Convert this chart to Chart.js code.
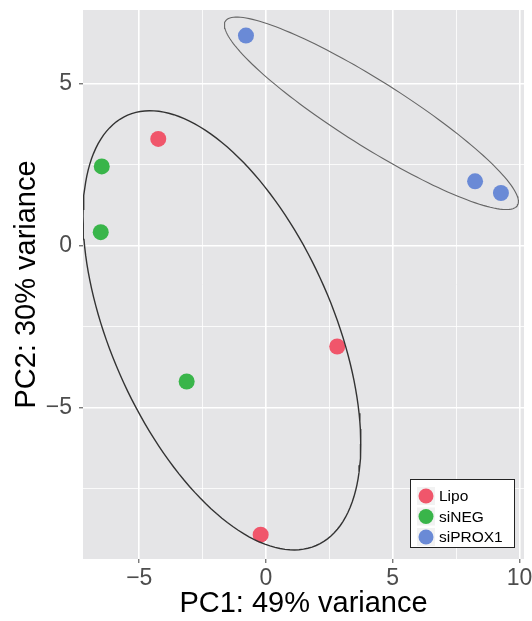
<!DOCTYPE html>
<html>
<head>
<meta charset="utf-8">
<script src="https://cdn.jsdelivr.net/npm/chart.js@4.4.1/dist/chart.umd.min.js"></script>
<style>
  body { margin: 0; background: #fff; }
  canvas { display: block; }
</style>
</head>
<body>
<canvas id="pca" width="532" height="621"></canvas>
<script>
// PCA scores
const groups = ["Lipo", "siNEG", "siPROX1"];
const groupColors = ["#F0566B", "#39B54A", "#6A8AD6"];
const lipoPC1 = [-4.25, 2.81, -0.21];
const lipoPC2 = [3.29, -3.12, -8.93];
const sinegPC1 = [-6.48, -6.52, -3.13];
const sinegPC2 = [2.44, 0.41, -4.20];
const siproxPC1 = [-0.79, 8.25, 9.27];
const siproxPC2 = [6.48, 1.98, 1.62];

// axis ticks (grid every 2.5, labels every 5)
const xGrid = [-5, -2.5, 0, 2.5, 5, 7.5, 10];
const yGrid = [-7.5, -5, -2.5, 0, 2.5, 5];
const majorTicks = [-5, 0, 5, 10];

// confidence ellipses: centre + two conjugate semi-axes, in data units
const ellipseTop = { c: [4.16, 4.08], u: [5.80, -2.725], v: [0, -1.185] };
const ellipseBig = { c: [-1.74, -2.62], u: [5.48, -3.512], v: [0, -5.80] };

function pts(xs, ys) {
  return xs.map((x, i) => ({ x: x, y: ys[i] }));
}

function ellipsePath(e) {
  const out = [];
  for (let i = 0; i <= 160; i++) {
    const t = (i / 160) * Math.PI * 2;
    out.push({
      x: e.c[0] + e.u[0] * Math.cos(t) + e.v[0] * Math.sin(t),
      y: e.c[1] + e.u[1] * Math.cos(t) + e.v[1] * Math.sin(t)
    });
  }
  return out;
}

const isMajor = v => majorTicks.includes(v);
const fmt = v => (v < 0 ? "\u2212" + Math.abs(v) : String(v));

const panelBg = {
  id: "panelBg",
  beforeDraw(chart) {
    const a = chart.chartArea, ctx = chart.ctx;
    ctx.save();
    ctx.fillStyle = "#E5E5E7";
    ctx.fillRect(a.left, a.top, a.right - a.left, a.bottom - a.top);
    ctx.restore();
  }
};

const insetLegend = {
  id: "insetLegend",
  afterDraw(chart) {
    const a = chart.chartArea, ctx = chart.ctx;
    const w = 104, h = 68;
    const x0 = a.right - 10 - w, y0 = a.bottom - 12 - h;
    ctx.save();
    ctx.fillStyle = "#fff";
    ctx.fillRect(x0, y0, w, h);
    ctx.strokeStyle = "#222";
    ctx.lineWidth = 1;
    ctx.strokeRect(x0 + 0.5, y0 + 0.5, w, h);
    groups.forEach((g, i) => {
      const cy = y0 + 17 + i * 20.5;
      const cx = x0 + 16;
      ctx.fillStyle = "#F2F2F2";
      ctx.fillRect(cx - 9, cy - 9, 18, 18);
      ctx.fillStyle = groupColors[i];
      ctx.beginPath();
      ctx.arc(cx, cy, 7.5, 0, Math.PI * 2);
      ctx.fill();
      ctx.fillStyle = "#000";
      ctx.font = "15.5px 'Liberation Sans', Arial, sans-serif";
      ctx.textBaseline = "middle";
      ctx.fillText(g, x0 + 29, cy + 1);
    });
    ctx.restore();
  }
};

const pointSets = [pts(lipoPC1, lipoPC2), pts(sinegPC1, sinegPC2), pts(siproxPC1, siproxPC2)];

const datasets = [
  {
    label: "ell1", data: ellipsePath(ellipseTop), showLine: true, pointRadius: 0,
    borderColor: "#666", borderWidth: 1.1, fill: false, tension: 0
  },
  {
    label: "ell2", data: ellipsePath(ellipseBig), showLine: true, pointRadius: 0,
    borderColor: "#333", borderWidth: 1.4, fill: false, tension: 0
  }
].concat(groups.map((g, i) => ({
  label: g,
  data: pointSets[i],
  pointRadius: 8,
  pointHoverRadius: 8,
  pointBackgroundColor: groupColors[i],
  pointBorderWidth: 0,
  showLine: false
})));

const axisFont = { family: "'Liberation Sans', Arial, sans-serif", size: 23 };
const titleFont = { family: "'Liberation Sans', Arial, sans-serif", size: 29 };

function gridOpts() {
  return {
    color: "#FFFFFF",
    lineWidth: ctx => (ctx.tick && isMajor(ctx.tick.value) ? 1.6 : 0.8),
    tickColor: ctx => (ctx.tick && isMajor(ctx.tick.value) ? "#444" : "rgba(0,0,0,0)"),
    tickWidth: 1,
    tickLength: 4,
    drawTicks: true
  };
}

new Chart(document.getElementById("pca"), {
  type: "scatter",
  data: { datasets: datasets },
  plugins: [panelBg, insetLegend],
  options: {
    responsive: false,
    animation: false,
    devicePixelRatio: 1,
    layout: { padding: { left: 0, top: 10, right: 8, bottom: 0 } },
    plugins: { legend: { display: false }, tooltip: { enabled: false } },
    scales: {
      x: {
        type: "linear",
        min: -7.22,
        max: 10.18,
        afterBuildTicks: s => { s.ticks = xGrid.map(v => ({ value: v })); },
        afterFit: s => { s.height = 62; s.paddingLeft = 0; s.paddingRight = 0; },
        border: { display: false },
        grid: gridOpts(),
        ticks: {
          autoSkip: false, maxRotation: 0, padding: 2,
          color: "#4D4D4D", font: axisFont,
          callback: v => (isMajor(v) ? fmt(v) : "")
        },
        title: {
          display: true, text: "PC1: 49% variance", color: "#000",
          font: titleFont, padding: { top: 0, bottom: 0 }
        }
      },
      y: {
        type: "linear",
        min: -9.68,
        max: 7.27,
        afterBuildTicks: s => { s.ticks = yGrid.map(v => ({ value: v })); },
        afterFit: s => { s.width = 83; s.paddingTop = 0; s.paddingBottom = 0; },
        border: { display: false },
        grid: gridOpts(),
        ticks: {
          autoSkip: false, padding: 7,
          color: "#4D4D4D", font: axisFont,
          callback: v => (isMajor(v) ? fmt(v) : "")
        },
        title: {
          display: true, text: "PC2: 30% variance", color: "#000",
          font: titleFont, padding: { top: 10, bottom: 0 }
        }
      }
    }
  }
});
</script>
</body>
</html>
